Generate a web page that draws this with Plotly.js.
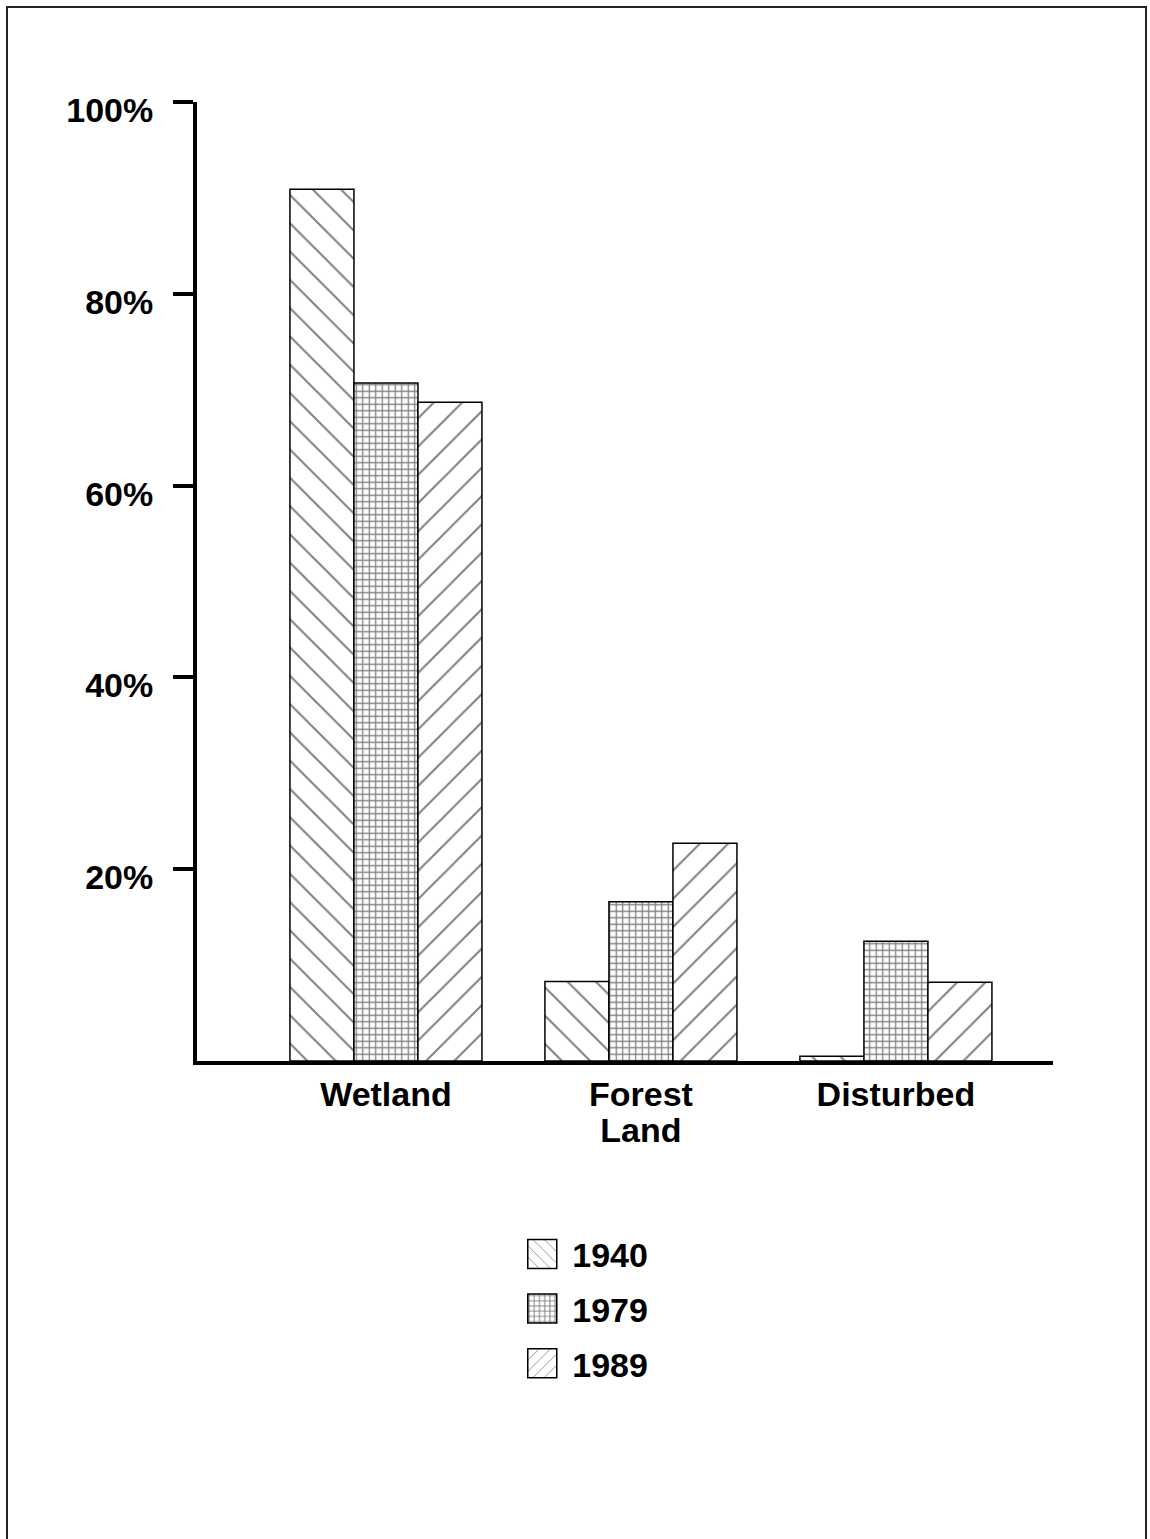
<!DOCTYPE html>
<html>
<head>
<meta charset="utf-8">
<script src="https://cdn.plot.ly/plotly-3.0.1.min.js"></script>
<style>
  html, body { margin: 0; padding: 0; background: #fff; }
  #wrap { position: relative; width: 1150px; height: 1539px; }
  #frame { position: absolute; left: 6px; top: 6px; width: 1141px; height: 1560px;
           border: 2px solid #222; box-sizing: border-box; pointer-events: none; z-index: 5; }
  #chart { position: absolute; left: 0; top: 0; width: 1150px; height: 1539px; }
</style>
</head>
<body>
<div id="wrap">
  <div id="chart"></div>
  <div id="frame"></div>
</div>
<script>
// Data
const categories = ["Wetland", "Forest<br>Land", "Disturbed"];
const years = ["1940", "1979", "1989"];
const values1940 = [90.9, 8.3, 0.5];
const values1979 = [70.7, 16.6, 12.5];
const values1989 = [68.7, 22.7, 8.2];
const yTickVals = [20, 40, 60, 80, 100];
const yTickText = ["20%", "40%", "60%", "80%", "100%"];

const series = [values1940, values1979, values1989];
const patterns = [
  { shape: "\\", size: 20, solidity: 0.1 },
  { shape: "+", size: 6.5, solidity: 0.35 },
  { shape: "/", size: 20, solidity: 0.1 }
];

const traces = years.map((yr, i) => ({
  type: "bar",
  name: yr,
  legendgroup: "g" + yr,
  x: categories,
  y: series[i],
  marker: {
    color: "#ffffff",
    line: { color: "#000000", width: 1.5 },
    pattern: { shape: patterns[i].shape, size: patterns[i].size, solidity: patterns[i].solidity,
               fgcolor: "#000000", bgcolor: "#ffffff", fillmode: "overlay" }
  },
  hoverinfo: "skip"
}));

const font = { family: "Liberation Sans, Arial, Helvetica, sans-serif", size: 34, color: "#000", weight: "bold" };

const layout = {
  width: 1150,
  height: 1539,
  margin: { l: 197, r: 97, t: 102, b: 478 },
  paper_bgcolor: "#ffffff",
  plot_bgcolor: "#ffffff",
  font: font,
  barmode: "group",
  bargap: 0.247,
  bargroupgap: 0,
  showlegend: true,
  legend: {
    x: 0.380, xanchor: "left",
    y: -0.1713, yanchor: "top",
    font: font,
    bgcolor: "rgba(0,0,0,0)",
    itemwidth: 40,
    traceorder: "grouped",
    tracegroupgap: 7.5
  },
  xaxis: {
    type: "category",
    range: [-0.741, 2.616],
    showline: true, linecolor: "#000", linewidth: 4,
    ticks: "", showgrid: false, zeroline: false,
    tickfont: font,
    fixedrange: true
  },
  yaxis: {
    range: [0, 100],
    tickvals: yTickVals,
    ticktext: yTickText,
    showline: true, linecolor: "#000", linewidth: 4,
    ticks: "outside", ticklen: 20, tickwidth: 4, tickcolor: "#000",
    ticklabelstandoff: 13,
    ticklabelshift: 8,
    showgrid: false, zeroline: false,
    tickfont: font,
    fixedrange: true
  }
};

function adjustLegendAndLabels(gd) {
  // enlarge the legend swatches to the reference's square size
  gd.querySelectorAll(".legend .legendpoints path").forEach(p => {
    const b = p.getBBox();
    if (!b.width) return;
    const cx = b.x + b.width / 2 - 5, cy = b.y + b.height / 2;
    const h = 14.5;
    p.setAttribute("d", "M" + (cx + h) + "," + (cy + h) + "H" + (cx - h) + "V" + (cy - h) + "H" + (cx + h) + "Z");
    p.style.strokeWidth = "1.5px";
  });
  // tighten the two-line category label spacing
  gd.querySelectorAll(".xtick text tspan.line").forEach(t => {
    const dy = t.getAttribute("dy");
    if (dy && parseFloat(dy) > 0) t.setAttribute("dy", "1.05em");
  });
}

Plotly.newPlot("chart", traces, layout, { displayModeBar: false, staticPlot: true })
  .then(gd => adjustLegendAndLabels(gd));
</script>
</body>
</html>
